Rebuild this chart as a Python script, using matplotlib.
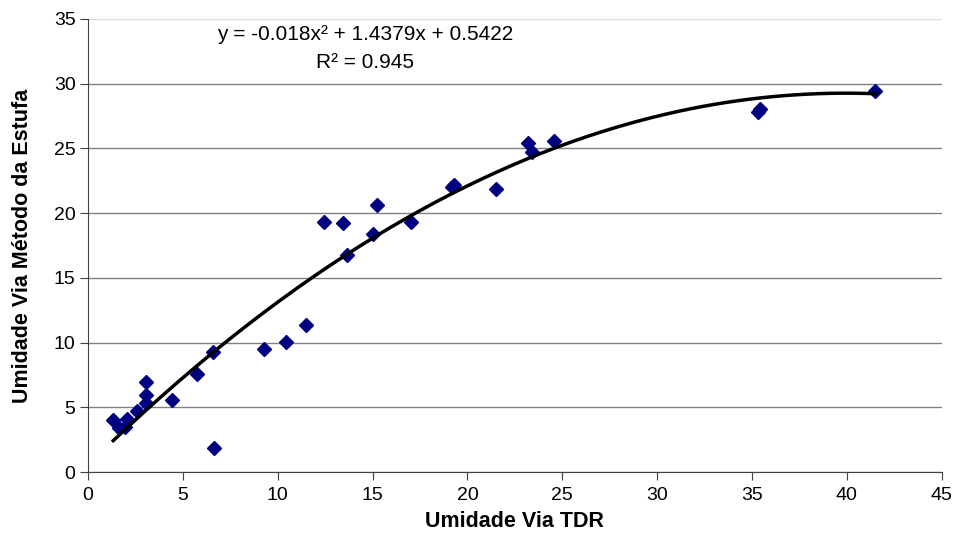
import numpy as np
import matplotlib
matplotlib.use('Agg')
import matplotlib.pyplot as plt

plt.rcParams['font.family'] = ['Liberation Sans', 'DejaVu Sans']

# data
tdr = [1.33, 1.65, 1.95, 2.04, 2.60, 3.06, 3.06, 3.06, 4.44, 5.73,
       6.64, 6.60, 9.27, 10.43, 11.49, 12.43, 13.45, 13.66, 15.03, 15.25,
       17.0, 19.2, 19.3, 21.5, 23.2, 23.4, 24.57, 35.3, 35.4, 41.5]
estufa = [4.02, 3.40, 3.50, 4.07, 4.74, 6.98, 5.95, 5.31, 5.56, 7.57,
          1.88, 9.25, 9.48, 10.07, 11.33, 19.34, 19.22, 16.74, 18.37, 20.6,
          19.3, 22.0, 22.2, 21.85, 25.4, 24.75, 25.58, 27.8, 28.0, 29.42]

# trend line from the equation on the chart
coef = [-0.018, 1.4379, 0.5422]
eq_text = 'y = -0.018x² + 1.4379x + 0.5422'
r2_text = 'R² = 0.945'

fig = plt.figure(figsize=(9.61, 5.54), dpi=100)
ax = fig.add_axes([0.0916, 0.148, 0.8884, 0.818])

ax.set_xlim(0, 45)
ax.set_ylim(0, 35)
ax.set_xticks(np.arange(0, 46, 5))
ax.set_yticks(np.arange(0, 36, 5))
ax.yaxis.grid(True, color='#808080', linewidth=1)
ax.get_ygridlines()[-1].set_color('#dcdcdc')
ax.set_axisbelow(True)

for s in ['top', 'right']:
    ax.spines[s].set_visible(False)
for s in ['left', 'bottom']:
    ax.spines[s].set_color('#404040')
ax.tick_params(direction='out', length=6, color='#404040', labelsize=14)
ax.tick_params(axis='x', pad=5)
ax.tick_params(axis='y', pad=3)

xs = np.linspace(min(tdr), max(tdr), 200)
ax.plot(tdr, estufa, linestyle='none', marker='D', markersize=6.8,
        color='#000080', zorder=3)
ax.plot(xs, np.polyval(coef, xs), color='black', linewidth=2.5, zorder=4)

ax.text(0.324, 0.965, eq_text, transform=ax.transAxes, ha='center',
        va='center', fontsize=15)
ax.text(0.324, 0.903, r2_text, transform=ax.transAxes, ha='center',
        va='center', fontsize=15)

ax.set_xlabel('Umidade Via TDR', fontsize=15.5, fontweight='bold', labelpad=5)
ax.set_ylabel('Umidade Via Método da Estufa', fontsize=15.5, fontweight='bold',
              labelpad=15)

fig.savefig('out.png', dpi=100)
